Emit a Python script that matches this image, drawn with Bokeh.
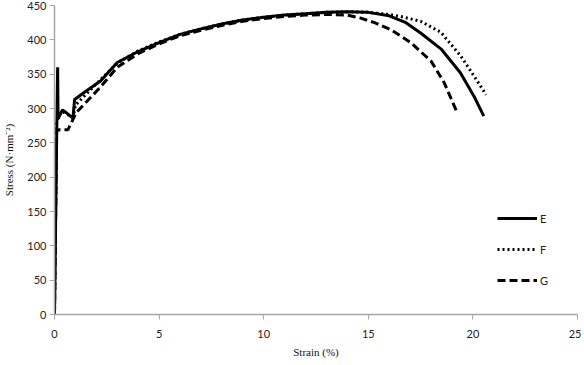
from bokeh.plotting import figure
from bokeh.models import Range1d, FixedTicker, Legend, LegendItem
from bokeh.embed import file_html
from bokeh.resources import INLINE

# Data (strain %, stress N/mm2)
e_strain = [0, 0.1, 0.15, 0.17, 0.38, 0.6, 0.88, 0.96, 1.5, 2.2, 3, 4, 5, 6, 7, 8, 9, 10, 11, 12, 13, 14, 15, 16, 16.8, 17.5, 18.5, 19.4, 20.05, 20.52]
e_stress = [0, 250, 360, 285, 298, 293, 286, 313, 325, 340, 367, 383, 396, 408, 416, 423, 429, 433, 436, 438, 440, 441, 440, 435, 425, 410, 386, 352, 318, 289]

f_strain = [0, 0.1, 0.2, 0.4, 0.7, 0.9, 1.0, 2, 3, 4, 5, 6, 7, 8, 9, 10, 11, 12, 13, 14, 15, 16, 16.55, 17.5, 18.47, 19.43, 20.06, 20.63]
f_stress = [0, 280, 290, 295, 290, 288, 305, 336, 366, 384, 397, 408, 416, 423, 429, 433, 436, 438, 440, 441, 440, 437, 434, 427, 411, 376, 347, 320]

g_strain = [0, 0.1, 0.24, 0.64, 1.04, 2.16, 3, 4, 5, 6, 7, 8, 9, 10, 11, 12, 13, 14, 14.6, 15.3, 16.07, 17.03, 18.0, 18.62, 19.19, 19.24]
g_stress = [0, 268, 269, 269, 294, 330, 360, 380, 394, 406, 414, 421, 427, 431, 434, 436, 437, 436, 432, 425, 415, 396, 369, 338, 298, 294]

x_ticks = [0, 5, 10, 15, 20, 25]
y_ticks = [0, 50, 100, 150, 200, 250, 300, 350, 400, 450]
series_labels = ["E", "F", "G"]
x_title = "Strain (%)"
y_title = "Stress (N·mm⁻²)"

p = figure(width=581, height=364, output_backend="svg", toolbar_location=None,
           x_range=Range1d(0, 25), y_range=Range1d(0, 450),
           min_border_left=53, min_border_right=4, min_border_top=5, min_border_bottom=50)
p.outline_line_color = None
p.xgrid.grid_line_color = None
p.ygrid.grid_line_color = None
p.background_fill_color = "white"

axis_color = "#a6a6a6"
for ax in (p.xaxis[0], p.yaxis[0]):
    ax.axis_line_color = axis_color
    ax.axis_line_width = 1.5
    ax.major_tick_line_color = axis_color
    ax.major_tick_out = 5
    ax.major_tick_in = 0
    ax.minor_tick_line_color = None
    ax.major_label_text_font = "Lato"
    ax.major_label_text_font_size = "11px"
    ax.major_label_text_color = "#222222"
    ax.axis_label_text_font = "Liberation Serif"
    ax.axis_label_text_font_size = "11px"
    ax.axis_label_text_font_style = "normal"
    ax.axis_label_text_color = "#111111"

p.xaxis.ticker = FixedTicker(ticks=x_ticks)
p.yaxis.ticker = FixedTicker(ticks=y_ticks)
p.xaxis.axis_label = x_title
p.yaxis.axis_label = y_title
p.xaxis.major_label_standoff = 10
p.xaxis.axis_label_standoff = 5
p.yaxis.major_label_standoff = 3
p.yaxis.axis_label_standoff = 9

re = p.line(e_strain, e_stress, line_color="black", line_width=3)
rf = p.line(f_strain, f_stress, line_color="black", line_width=3, line_dash="2 3")
rg = p.line(g_strain, g_stress, line_color="black", line_width=3, line_dash="8 4")

legend = Legend(items=[LegendItem(label=series_labels[0], renderers=[re]),
                       LegendItem(label=series_labels[1], renderers=[rf]),
                       LegendItem(label=series_labels[2], renderers=[rg])],
                location=(443, 24), orientation="vertical",
                glyph_width=40, glyph_height=20, label_height=20, spacing=11,
                label_standoff=3, padding=0, margin=0,
                border_line_color=None, background_fill_alpha=0,
                label_text_font="Lato", label_text_font_size="11px",
                label_text_color="#222222")
p.add_layout(legend)

open("out.html", "w").write(file_html(p, INLINE))
